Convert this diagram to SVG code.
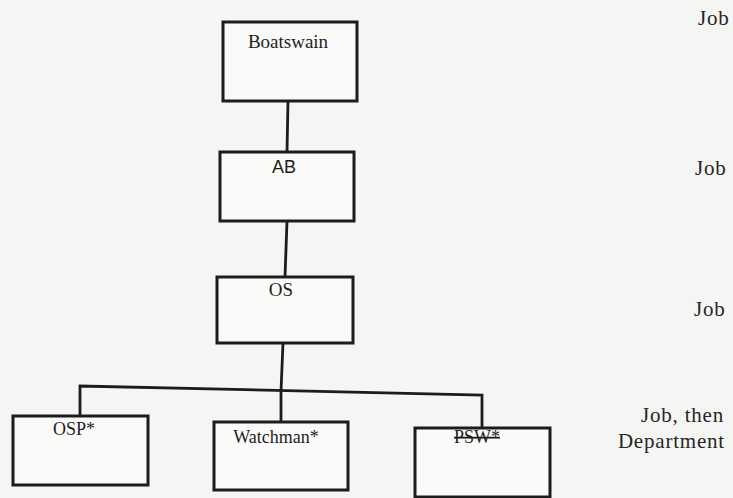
<svg xmlns="http://www.w3.org/2000/svg" width="733" height="498" viewBox="0 0 733 498">
<style>
.box{fill:#fafaf8;stroke:#1c1c1c;stroke-width:3}
.lbl{font-family:"Liberation Serif","Times New Roman",serif;font-size:18px;fill:#1e1e1e;text-anchor:middle}
.sans{font-family:"Liberation Sans",Arial,sans-serif}
.side{font-family:"Liberation Serif","Times New Roman",serif;font-size:21px;fill:#262626;letter-spacing:0.8px}
.conn{stroke:#1c1c1c;stroke-width:2.8;fill:none}
</style>
<rect width="733" height="498" fill="#f5f5f3"/>
<g id="connectors">
<line class="conn" x1="288" y1="101" x2="287" y2="152"/>
<line class="conn" x1="287" y1="221" x2="285" y2="277"/>
<line class="conn" x1="283" y1="343" x2="281" y2="391"/>
<polyline class="conn" points="80,416 80,386 482,395 482,428"/>
<line class="conn" x1="281" y1="390" x2="281" y2="422"/>
</g>
<g id="boatswain">
<rect class="box" x="223" y="22" width="134" height="79"/>
<text class="lbl" x="288" y="48" style="font-size:19px">Boatswain</text>
</g>
<g id="ab">
<rect class="box" x="220" y="152" width="134" height="69"/>
<text class="lbl sans" x="284" y="173">AB</text>
</g>
<g id="os">
<rect class="box" x="217" y="277" width="136" height="66"/>
<text class="lbl" x="281" y="296" style="font-size:19px">OS</text>
</g>
<g id="osp">
<rect class="box" x="13" y="416" width="135" height="69"/>
<text class="lbl" x="74" y="435">OSP*</text>
</g>
<g id="watchman">
<rect class="box" x="214" y="422" width="134" height="68"/>
<text class="lbl" x="276" y="443">Watchman*</text>
</g>
<g id="psw">
<rect class="box" x="415" y="428" width="135" height="69"/>
<text class="lbl" x="477" y="443" text-decoration="line-through">PSW*</text>
</g>
<g id="side-labels">
<text class="side" x="698" y="25">Job</text>
<text class="side" x="695" y="175">Job</text>
<text class="side" x="694" y="316">Job</text>
<text class="side" x="724" y="422" text-anchor="end">Job, then</text>
<text class="side" x="725" y="448" text-anchor="end">Department</text>
</g>
</svg>
